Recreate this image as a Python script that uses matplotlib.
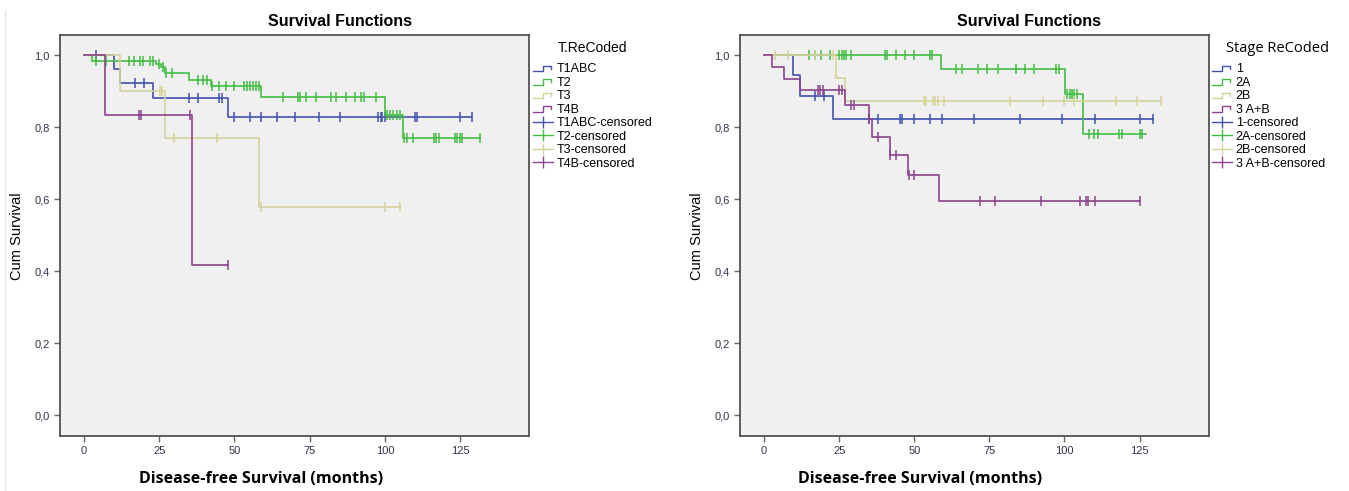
import numpy as np
import matplotlib
matplotlib.use('Agg')
from matplotlib import pyplot as plt
from matplotlib.lines import Line2D
from matplotlib.legend_handler import HandlerBase
from matplotlib.ticker import FuncFormatter

# ---- left panel: T.ReCoded (step times, survival levels, censored times)
t1abc_t = [0, 10, 12, 23, 48, 129.1]
t1abc_s = [1, 0.962, 0.923, 0.881, 0.829, 0.829]
t1abc_c = [4, 17, 20, 35, 37.8, 45, 45.8, 49.8, 55, 58.9, 64.1, 70.1, 78.1, 85,
           97.8, 98.6, 99.2, 100, 109.9, 110.8, 125.1, 129.1]

t2_t = [0, 2.8, 23.9, 25.5, 27, 35, 42.1, 58.9, 100, 105.9, 131.5]
t2_s = [1, 0.985, 0.976, 0.966, 0.951, 0.932, 0.913, 0.883, 0.833, 0.769, 0.769]
t2_c = [4, 7.2, 14.9, 16.6, 18.6, 19.7, 21.9, 22.8, 24.8, 26.3, 27.3, 29.3, 38, 39.4,
        40.8, 42.4, 45, 47.2, 49.8, 53, 54, 55.1, 56, 57.1, 58, 66, 71.1, 71.8, 73.9,
        77.1, 82.2, 83.7, 87, 89.9, 91.9, 93, 97, 100.8, 101.7, 102.8, 103.9, 105,
        106.5, 107.3, 109.3, 116.3, 117, 118.1, 123.2, 124.1, 124.9, 125.6, 131.5]

t3_t = [0, 12, 27, 58, 105]
t3_s = [1, 0.9, 0.771, 0.578, 0.578]
t3_c = [25.2, 25.9, 30, 44.1, 58.9, 100, 105]

t4b_t = [0, 7, 36, 48]
t4b_s = [1, 0.833, 0.417, 0.417]
t4b_c = [18.3, 18.8, 35.2, 48]

# ---- right panel: Stage ReCoded
st1_t = [0, 9.8, 12, 22.9, 129.4]
st1_s = [1, 0.944, 0.887, 0.824, 0.824]
st1_c = [16.9, 19.8, 34.9, 38, 45.1, 46, 50, 55.1, 59.1, 70, 85.1, 99.2, 110.1,
         125.1, 129.4]

st2a_t = [0, 59, 100.3, 106.1, 127]
st2a_s = [1, 0.961, 0.893, 0.78, 0.78]
st2a_c = [14.8, 17, 18.9, 21.8, 25.1, 25.8, 26.5, 27.2, 28.9, 40.4, 40.9, 44, 47, 50,
          55.1, 55.8, 64, 65.9, 71.1, 74.2, 77.9, 84, 87, 90, 97.3, 98.1, 100.9,
          101.7, 102.4, 103.3, 104.2, 108.1, 109.8, 111.1, 118.1, 119, 125, 125.9]

st2b_t = [0, 24, 27.1, 132.2]
st2b_s = [1, 0.937, 0.874, 0.874]
st2b_c = [3.7, 7.9, 17, 23.1, 53.1, 53.8, 56.2, 57, 57.8, 60, 82, 92.9, 100, 103.1,
          117.2, 124.2, 132.2]

st3_t = [0, 2.8, 6.8, 12, 26.9, 34.9, 35.9, 41.9, 47.9, 58.1, 125.1]
st3_s = [1, 0.967, 0.935, 0.902, 0.863, 0.822, 0.774, 0.724, 0.668, 0.594, 0.594]
st3_c = [18, 18.7, 19.6, 25, 25.8, 29, 30, 34.9, 37.9, 41.9, 43.8, 48.1, 49.8, 72, 77,
         92.2, 105.1, 107, 107.9, 110.1, 125.1]

left_labels = ['T1ABC', 'T2', 'T3', 'T4B']
right_labels = ['1', '2A', '2B', '3 A+B']
colors = ['#4152ad', '#43bd43', '#d6d29c', '#8b438b']

plt.rcParams['font.family'] = ['Liberation Sans', 'DejaVu Sans']


class StepHandler(HandlerBase):
    def create_artists(self, legend, orig_handle, xdescent, ydescent, width, height, fontsize, trans):
        xs = np.array([0.0, 0.5, 0.5, 0.92, 0.92]) * width - xdescent
        ys = np.array([0.15, 0.15, 0.75, 0.75, 0.4]) * height - ydescent
        ln = Line2D(xs, ys, color=orig_handle.get_color(), lw=1.0)
        ln.set_transform(trans)
        return [ln]


def draw_km(ax, curves, labels, legend_x):
    step_handles = []
    cens_handles = []
    for (t, s, c), lab, col in zip(curves, labels, colors):
        t = np.array(t)
        s = np.array(s)
        c = np.array(c)
        h, = ax.step(t, s, where='post', color=col, lw=1.2, label=lab)
        cy = s[np.searchsorted(t, c, side='right') - 1]
        ax.plot(c, cy, ls='none', marker='|', ms=7, mew=1.1, color=col)
        step_handles.append(h)
        cens_handles.append(Line2D([], [], color=col, lw=1.0, marker='|', ms=8, mew=1.0))
    ax.set_xlim(-7.9, 148)
    ax.set_ylim(-0.0575, 1.056)
    ax.set_facecolor('#f0f0f0')
    ax.set_xticks([0, 25, 50, 75, 100, 125])
    ax.set_yticks([0, 0.2, 0.4, 0.6, 0.8, 1.0])
    ax.yaxis.set_major_formatter(FuncFormatter(lambda v, p: ('%.1f' % v).replace('.', ',')))
    ax.tick_params(length=4, width=1, color='#666666', labelsize=8, labelcolor='#33334a')
    for sp in ax.spines.values():
        sp.set_color('#444444')
        sp.set_linewidth(1.2)
    handles = step_handles + cens_handles
    names = labels + [l + '-censored' for l in labels]
    hmap = {h: StepHandler() for h in step_handles}
    leg = ax.legend(handles, names, handler_map=hmap, loc='upper left',
                    bbox_to_anchor=(legend_x, 1 - 63.5 / 491), bbox_transform=fig.transFigure,
                    frameon=False, fontsize=9,
                    handlelength=1.6, handletextpad=0.3, labelspacing=0.115,
                    borderpad=0, borderaxespad=0, numpoints=1)
    return leg


fig = plt.figure(figsize=(13.49, 4.91), dpi=100)
fig.patch.set_facecolor('white')
ax1 = fig.add_axes([60.3 / 1349, 1 - 436 / 491, 469 / 1349, 401 / 491])
ax2 = fig.add_axes([740.3 / 1349, 1 - 436 / 491, 468.4 / 1349, 401 / 491])

draw_km(ax1, [(t1abc_t, t1abc_s, t1abc_c), (t2_t, t2_s, t2_c), (t3_t, t3_s, t3_c),
              (t4b_t, t4b_s, t4b_c)], left_labels, 533 / 1349)
draw_km(ax2, [(st1_t, st1_s, st1_c), (st2a_t, st2a_s, st2a_c), (st2b_t, st2b_s, st2b_c),
              (st3_t, st3_s, st3_c)], right_labels, 1212 / 1349)

fig.text(593 / 1349, 1 - 48 / 491, 'T.ReCoded', ha='center', va='center', fontsize=10)
fig.text(1277 / 1349, 1 - 48 / 491, 'Stage ReCoded', ha='center', va='center', fontsize=10.5,
         family=['Open Sans', 'DejaVu Sans'])

for xc, yc in [(340, 22), (1029, 22)]:
    fig.text(xc / 1349, 1 - yc / 491, 'Survival Functions', ha='center', va='center',
             fontsize=11.5, fontweight='bold')
for xc in [17, 697]:
    fig.text(xc / 1349, 1 - 236 / 491, 'Cum Survival', rotation=90, ha='center', va='center',
             fontsize=10.5)
for xc in [261, 920]:
    fig.text(xc / 1349, 1 - 479 / 491, 'Disease-free Survival (months)', ha='center',
             va='center', fontsize=11.5, fontweight='bold', family=['Open Sans', 'DejaVu Sans'])

fig.add_artist(Line2D([5 / 1349, 5 / 1349], [0, 1 - 10 / 491], transform=fig.transFigure,
                      color='#dfe7f2', lw=1))

fig.savefig('out.png', dpi=100)
